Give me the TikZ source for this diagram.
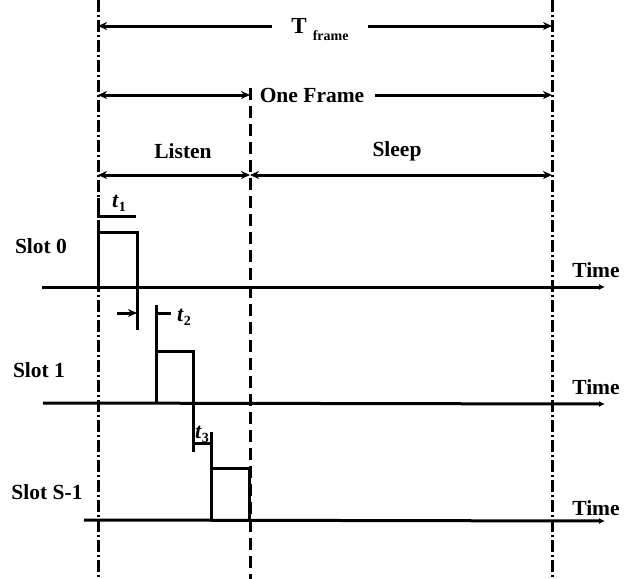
\documentclass[tikz,border=0pt]{standalone}
\usepackage{fontspec}
\setmainfont{Liberation Serif}
\usetikzlibrary{arrows.meta}
\newcommand{\tsym}[1]{\textbf{\textit{t}}\raisebox{-4pt}{\fontsize{14}{14}\selectfont\bfseries #1}}
\begin{document}
\begin{tikzpicture}[x=1pt,y=-1pt,
  ln/.style={line width=3pt},
  dashdot/.style={line width=3pt,dash pattern=on 12pt off 3pt on 2pt off 3pt},
  dsh/.style={line width=3pt,dash pattern=on 12pt off 6pt},
  arr/.style={line width=3pt,-{Stealth[length=9pt,width=8pt]}},
  dbl/.style={line width=3pt,{Stealth[length=9pt,width=8pt]}-{Stealth[length=9pt,width=8pt]}},
  axis/.style={line width=3pt,-{Latex[length=6pt,width=6pt]}},
  lbl/.style={font=\fontsize{21.5}{24}\selectfont\bfseries,inner sep=0pt},
  tl/.style={font=\fontsize{22}{24}\selectfont,inner sep=0pt}]
\useasboundingbox (0,0) rectangle (630,579);
% vertical guide lines
\coordinate (LT) at (98,0);   \coordinate (LB) at (98,579);
\coordinate (RT) at (552,0);  \coordinate (RB) at (552,579);
\coordinate (MT) at (250,88); \coordinate (MB) at (250,579);
\draw[dashdot] (LT) -- (LB);
\draw[dashdot] (RT) -- (RB);
\draw[dsh] (MT) -- (MB);
% T frame
\node[lbl,inner xsep=19pt] (tframe) at (320,30) {\fontsize{23}{24}\selectfont T\hspace{6pt}\raisebox{-7pt}{\fontsize{14}{14}\selectfont frame}};
\coordinate (tfL) at (98,26); \coordinate (tfR) at (552,26);
\draw[arr] (tframe.west |- tfL) -- (tfL);
\draw[arr] (tframe.east |- tfR) -- (tfR);
% One frame
\node[lbl,inner xsep=11pt] (oneframe) at (312,95) {One Frame};
\coordinate (ofL) at (98,95); \coordinate (ofM) at (250,95); \coordinate (ofR) at (552,95);
\draw[dbl] (ofL) -- (ofM);
\draw[arr] (oneframe.east |- ofR) -- (ofR);
% Listen / Sleep
\node[lbl] (listen) at (183,151) {Listen};
\node[lbl] (sleep) at (397,151) {Sleep};
\coordinate (lsL) at (98,175); \coordinate (lsM) at (250,175); \coordinate (lsR) at (552,175);
\draw[dbl] (lsL) -- (lsM);
\draw[dbl] (lsM) -- (lsR);
% slot labels
\node[lbl] (s0) at (41,246) {Slot 0};
\node[lbl] (s1) at (39,370) {Slot 1};
\node[lbl] (s2) at (47,492) {Slot S-1};
% time axes
\coordinate (a0L) at (42,287);  \coordinate (a0R) at (605,287);
\coordinate (a1L) at (43,403);  \coordinate (a1R) at (605,404);
\coordinate (a2L) at (84,520);  \coordinate (a2R) at (605,521);
\draw[axis] (a0L) -- (a0R);
\draw[axis] (a1L) -- (a1R);
\draw[axis] (a2L) -- (a2R);
\node[lbl] (time0) at (596,270) {Time};
\node[lbl] (time1) at (596,387) {Time};
\node[lbl] (time2) at (596,508) {Time};
% t1
\node[tl] (t1) at (119,203) {\tsym{1}};
\coordinate (t1a) at (98,198); \coordinate (t1b) at (98,216); \coordinate (t1c) at (136,216);
\draw[ln] (t1a) -- (t1b) -- (t1c);
% pulse slot 0
\coordinate (p0a) at (98,287); \coordinate (p0b) at (98,232);
\coordinate (p0c) at (137,232); \coordinate (p0d) at (137,330);
\draw[ln] (p0a) -- (p0b) -- (p0c) -- (p0d);
% t2
\coordinate (t2a) at (117,313); \coordinate (t2b) at (137,313);
\draw[arr] (t2a) -- (t2b);
\coordinate (t2c) at (156,313); \coordinate (t2d) at (171,313);
\draw[ln] (t2c) -- (t2d);
\node[tl] (t2) at (184,317) {\tsym{2}};
% pulse slot 1
\coordinate (p1a) at (156,305); \coordinate (p1b) at (156,403);
\coordinate (p1c) at (156,351); \coordinate (p1d) at (193,351); \coordinate (p1e) at (193,452);
\draw[ln] (p1a) -- (p1b);
\draw[ln] (p1c) -- (p1d) -- (p1e);
% t3
\coordinate (t3a) at (193,443); \coordinate (t3b) at (211,443);
\draw[ln] (t3a) -- (t3b);
\node[tl] (t3) at (202,434) {\tsym{3}};
% pulse slot S-1
\coordinate (p2a) at (211,432); \coordinate (p2b) at (211,520);
\coordinate (p2c) at (211,468); \coordinate (p2d) at (249,468); \coordinate (p2e) at (249,520);
\draw[ln] (p2a) -- (p2b);
\draw[ln] (p2c) -- (p2d) -- (p2e);
\end{tikzpicture}
\end{document}
